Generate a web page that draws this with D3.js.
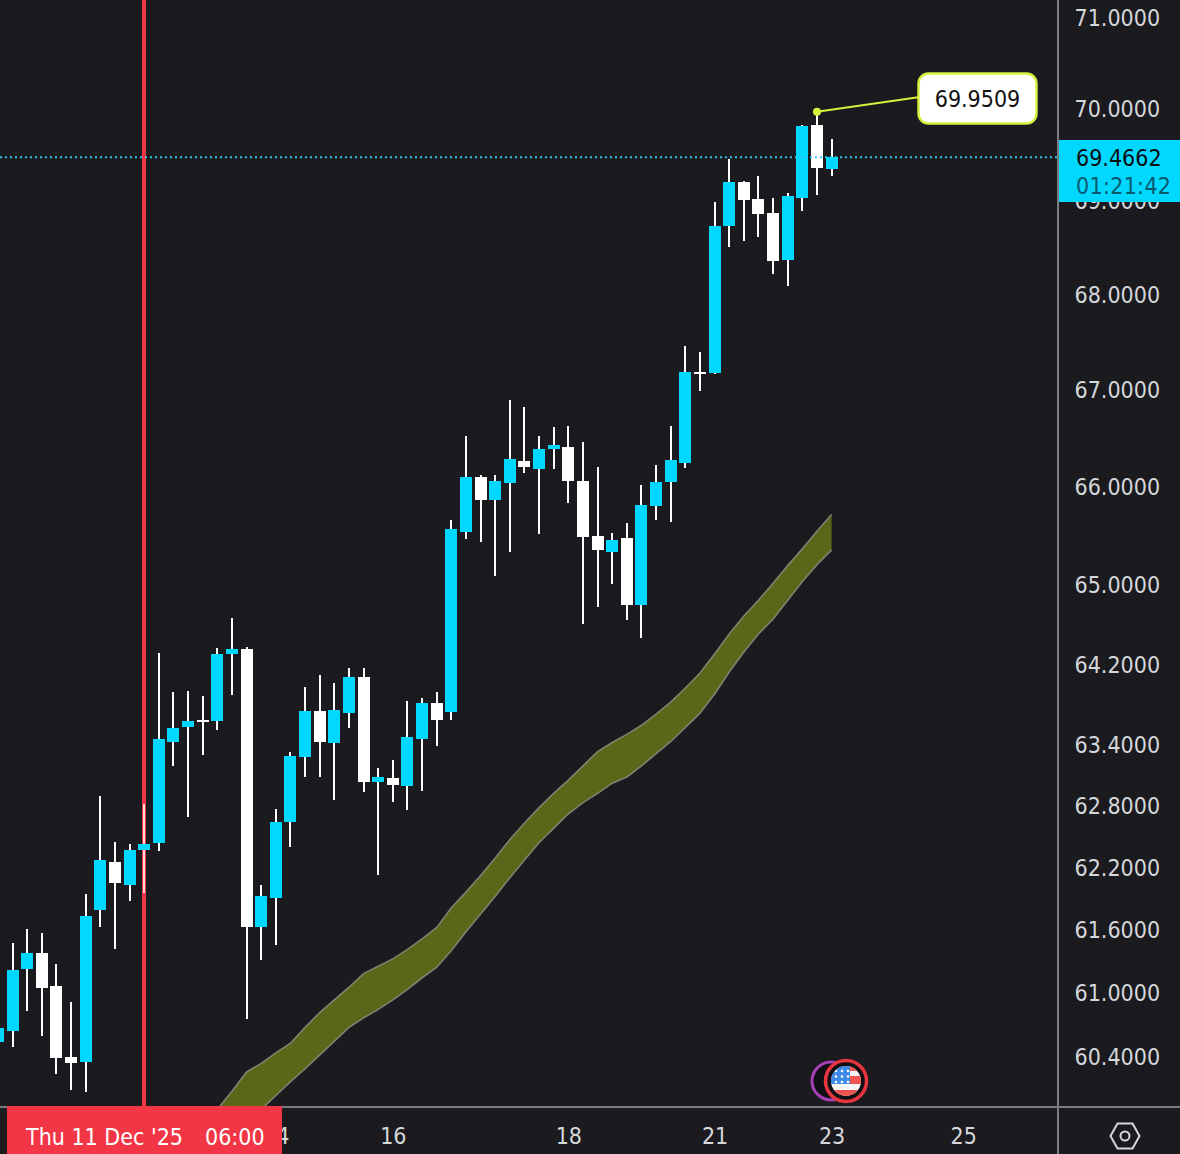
<!DOCTYPE html>
<html>
<head>
<meta charset="utf-8">
<title>Candlestick chart</title>
<script src="https://cdn.jsdelivr.net/npm/d3@7"></script>
<style>
	html, body { margin: 0; padding: 0; background: #1a1a1f; }
	svg { display: block; }
	text { font-family: "DejaVu Sans Condensed", "DejaVu Sans", sans-serif; font-stretch: condensed; }
</style>
</head>
<body>
<div id="chart"></div>
<script>
// Candles, one entry per bar, left to right
var opens = [60.53,60.64,61.22,61.38,61.06,60.39,60.34,61.79,62.25,62.03,
	62.37,62.44,63.42,63.57,63.64,63.63,64.30,64.35,61.62,61.90,
	62.64,63.28,63.73,63.41,63.71,64.07,63.03,63.07,62.99,63.45,
	63.81,63.72,65.53,66.09,65.86,66.03,66.26,66.18,66.38,66.40,
	66.05,65.49,65.33,65.47,64.79,65.80,66.04,66.24,67.18,67.17,
	68.73,69.20,69.02,68.87,68.36,69.03,69.82,69.34];
var highs = [60.66,61.47,61.61,61.57,61.27,60.91,61.94,62.89,62.45,62.43,
	62.82,64.31,63.92,63.93,63.88,64.36,64.66,64.37,62.03,62.77,
	63.33,63.97,64.09,64.01,64.16,64.16,63.17,63.25,63.83,63.86,
	63.92,65.65,66.52,66.12,66.12,66.89,66.82,66.52,66.61,66.62,
	66.46,66.20,65.52,65.62,66.01,66.22,66.62,67.46,67.39,68.99,
	69.45,69.21,69.27,69.03,69.08,69.82,69.9509,69.67];
var lows = [60.50,60.48,60.82,60.59,60.23,60.08,60.06,61.62,61.41,61.87,
	61.95,62.36,63.19,62.69,63.30,63.54,63.89,60.75,61.31,61.45,
	62.40,63.08,63.08,62.85,63.56,62.93,62.13,62.84,62.76,62.94,
	63.39,63.64,65.46,65.43,65.08,65.33,66.14,65.51,66.18,65.83,
	64.60,64.77,65.00,64.64,64.46,65.65,65.63,66.19,66.99,67.16,
	68.50,68.57,68.61,68.22,68.09,68.89,69.06,69.27];
var closes = [60.66,61.21,61.38,61.04,60.38,60.33,61.73,62.27,62.05,62.37,
	62.43,63.45,63.56,63.63,63.62,64.30,64.35,61.62,61.92,62.64,
	63.29,63.73,63.42,63.74,64.07,63.03,63.08,63.00,63.47,63.81,
	63.64,65.56,66.09,65.86,66.05,66.28,66.20,66.38,66.42,66.05,
	65.48,65.35,65.45,64.79,65.81,66.04,66.27,67.18,67.16,68.73,
	69.20,69.01,68.86,68.35,69.05,69.81,69.35,69.4662];

// Moving average ribbon, bars 15 to 57
var ribbonStart = 15;
var ribbonUpper = [59.90,60.07,60.25,60.33,60.43,60.52,60.67,60.81,60.93,61.05,
	61.18,61.25,61.32,61.41,61.51,61.62,61.81,61.96,62.12,62.29,
	62.47,62.63,62.78,62.92,63.05,63.19,63.33,63.42,63.50,63.59,
	63.70,63.82,63.96,64.11,64.30,64.50,64.68,64.84,65.01,65.19,
	65.36,65.54,65.71];
var ribbonLower = [59.55,59.66,59.78,59.90,60.03,60.16,60.28,60.41,60.54,60.67,
	60.76,60.84,60.93,61.03,61.14,61.24,61.40,61.58,61.75,61.92,
	62.10,62.27,62.44,62.58,62.72,62.83,62.92,63.02,63.08,63.19,
	63.31,63.43,63.57,63.71,63.90,64.12,64.32,64.50,64.65,64.84,
	65.03,65.20,65.35];

// Axis ticks
var priceTicks = [71,70,69,68,67,66,65,64.2,63.4,62.8,62.2,61.6,61,60.4];
var timeTickBars = [19,27,39,49,57,66];
var timeTickLabels = ["14","16","18","21","23","25"];

// Callouts
var lastPrice = 69.4662;
var countdown = "01:21:42";
var peakBar = 56;
var peakPrice = 69.9509;
var crosshairBar = 10;
var crosshairDate = "Thu 11 Dec '25";
var crosshairTime = "06:00";

var width = 1180, height = 1154;
var paneRight = 1058, paneBottom = 1107;
var upColor = "#00d8ff", downColor = "#ffffff", wickColor = "#ffffff";
var lineGray = "#7b7c80", labelColor = "#d6d7db", lime = "#d9f03c", red = "#f23645";

var svg = d3.select("#chart")
	.append("svg")
	.attr("width", width)
	.attr("height", height);

svg.append("rect")
	.attr("width", width)
	.attr("height", height)
	.attr("fill", "#1a1a1f");

svg.append("clipPath")
	.attr("id", "paneClip")
	.append("rect")
	.attr("width", paneRight)
	.attr("height", paneBottom);

var x = d3.scaleLinear().domain([0, 57]).range([-2, 831.6]);
var y = d3.scaleLog().domain([60.4, 71]).range([1056, 17]);

var bars = d3.range(opens.length);
var pane = svg.append("g").attr("clip-path", "url(#paneClip)");

// Ribbon
var ribbonBars = d3.range(ribbonUpper.length);
var ribbonX = i => x(ribbonStart + i);

pane.append("path")
	.attr("d", d3.area().x(ribbonX).y0(i => y(ribbonLower[i])).y1(i => y(ribbonUpper[i]))(ribbonBars))
	.attr("fill", "#5b6618");

[ribbonUpper, ribbonLower].forEach(function(values){
	pane.append("path")
		.attr("d", d3.line().x(ribbonX).y(i => y(values[i]))(ribbonBars))
		.attr("fill", "none")
		.attr("stroke", "#7f8370")
		.attr("stroke-width", 1.6);
});

// Crosshair sits under the candles
pane.append("line")
	.attr("x1", Math.round(x(crosshairBar)))
	.attr("x2", Math.round(x(crosshairBar)))
	.attr("y1", 0)
	.attr("y2", paneBottom)
	.attr("stroke", red)
	.attr("stroke-width", 4);

// Wicks
pane.selectAll(".wick")
	.data(bars)
	.enter()
	.append("rect")
	.attr("class", "wick")
	.attr("x", i => Math.round(x(i)) - 1)
	.attr("width", 2)
	.attr("y", i => Math.round(y(highs[i])))
	.attr("height", i => Math.round(y(lows[i])) - Math.round(y(highs[i])))
	.attr("fill", wickColor)
	.attr("opacity", i => i == crosshairBar ? 0.8 : 1);

// Bodies
pane.selectAll(".body")
	.data(bars)
	.enter()
	.append("rect")
	.attr("class", "body")
	.attr("x", i => Math.round(x(i)) - 6)
	.attr("width", 12)
	.attr("y", i => Math.round(y(Math.max(opens[i], closes[i]))))
	.attr("height", i => Math.max(2, Math.round(y(Math.min(opens[i], closes[i]))) - Math.round(y(Math.max(opens[i], closes[i])))))
	.attr("fill", i => closes[i] >= opens[i] ? upColor : downColor);

// Last price line
pane.append("line")
	.attr("x1", 0)
	.attr("x2", paneRight)
	.attr("y1", y(lastPrice))
	.attr("y2", y(lastPrice))
	.attr("stroke", "#2fc8e4")
	.attr("stroke-width", 2)
	.attr("stroke-dasharray", "2 3");

// Peak callout
var peakX = x(peakBar), peakY = y(peakPrice) - 1;
pane.append("line")
	.attr("x1", peakX)
	.attr("y1", peakY)
	.attr("x2", 920)
	.attr("y2", 97)
	.attr("stroke", lime)
	.attr("stroke-width", 2);
pane.append("circle")
	.attr("cx", peakX)
	.attr("cy", peakY)
	.attr("r", 4)
	.attr("fill", lime);
pane.append("rect")
	.attr("x", 918.5)
	.attr("y", 73.5)
	.attr("width", 118)
	.attr("height", 50)
	.attr("rx", 10)
	.attr("fill", "#ffffff")
	.attr("stroke", lime)
	.attr("stroke-width", 2.4);
pane.append("text")
	.attr("x", 977.5)
	.attr("y", 107)
	.attr("text-anchor", "middle")
	.attr("font-size", 23)
	.attr("fill", "#111111")
	.text(peakPrice.toFixed(4));

// Axes
var yAxis = d3.axisRight(y)
	.tickValues(priceTicks)
	.tickFormat(d => d.toFixed(4))
	.tickSize(0)
	.tickPadding(16.5);
var yAxisG = svg.append("g")
	.attr("transform", `translate(${paneRight}, 0)`)
	.call(yAxis);
yAxisG.select(".domain").remove();
yAxisG.selectAll("text")
	.attr("font-size", 23)
	.attr("dy", "0.36em")
	.attr("fill", labelColor);

var xAxis = d3.axisBottom(x)
	.tickValues(timeTickBars)
	.tickFormat((d, i) => timeTickLabels[i])
	.tickSize(0)
	.tickPadding(0);
var xAxisG = svg.append("g")
	.attr("transform", `translate(0, ${paneBottom + 21})`)
	.call(xAxis);
xAxisG.select(".domain").remove();
xAxisG.selectAll("text")
	.attr("font-size", 23)
	.attr("fill", labelColor);

svg.append("line")
	.attr("x1", paneRight).attr("x2", paneRight)
	.attr("y1", 0).attr("y2", height)
	.attr("stroke", lineGray).attr("stroke-width", 2);
svg.append("line")
	.attr("x1", 0).attr("x2", width)
	.attr("y1", paneBottom).attr("y2", paneBottom)
	.attr("stroke", lineGray).attr("stroke-width", 2);

// Last price tag
svg.append("rect")
	.attr("x", paneRight + 1)
	.attr("y", 140)
	.attr("width", width - paneRight + 4)
	.attr("height", 62)
	.attr("rx", 4)
	.attr("fill", upColor);
svg.append("rect")
	.attr("x", paneRight + 1)
	.attr("y", 140)
	.attr("width", 8)
	.attr("height", 62)
	.attr("fill", upColor);
svg.append("text")
	.attr("x", 1076)
	.attr("y", 166)
	.attr("font-size", 23)
	.attr("fill", "#0b0c10")
	.text(lastPrice.toFixed(4));
svg.append("text")
	.attr("x", 1076)
	.attr("y", 194)
	.attr("font-size", 23)
	.attr("letter-spacing", 0.3)
	.attr("fill", "#07596e")
	.text(countdown);

// Crosshair date tag
svg.append("rect")
	.attr("x", 7)
	.attr("y", paneBottom - 1)
	.attr("width", 275)
	.attr("height", height - paneBottom + 1)
	.attr("fill", red);
svg.append("text")
	.attr("x", 26)
	.attr("y", 1145)
	.attr("font-size", 23)
	.attr("fill", "#ffffff")
	.text(crosshairDate);
svg.append("text")
	.attr("x", 205)
	.attr("y", 1145)
	.attr("font-size", 23)
	.attr("fill", "#ffffff")
	.text(crosshairTime);

// Settings hexagon
var hex = svg.append("g")
	.attr("transform", "translate(1125, 1136)")
	.attr("fill", "none")
	.attr("stroke", labelColor)
	.attr("stroke-width", 2);
hex.append("path").attr("d", "M-14.5,0 L-7.5,-12.5 L7.5,-12.5 L14.5,0 L7.5,12.5 L-7.5,12.5 Z");
hex.append("circle").attr("r", 4.5);

// Event markers with the flag
var eventX = 846, eventY = 1081;
svg.append("circle")
	.attr("cx", eventX - 15)
	.attr("cy", eventY)
	.attr("r", 19)
	.attr("fill", "#101014")
	.attr("stroke", "#a63fb4")
	.attr("stroke-width", 3);
svg.append("circle")
	.attr("cx", eventX)
	.attr("cy", eventY)
	.attr("r", 20.5)
	.attr("fill", "#101014")
	.attr("stroke", "#e8343f")
	.attr("stroke-width", 3.5);

svg.append("clipPath")
	.attr("id", "flagClip")
	.append("circle")
	.attr("cx", eventX)
	.attr("cy", eventY)
	.attr("r", 15);

var flag = svg.append("g")
	.attr("clip-path", "url(#flagClip)");
flag.append("rect")
	.attr("x", eventX - 15).attr("y", eventY - 15)
	.attr("width", 30).attr("height", 30)
	.attr("fill", "#f4f4f4");
[[-15, 5], [-5, 8], [9, 6]].forEach(function(band){
	flag.append("rect")
		.attr("x", eventX - 15).attr("y", eventY + band[0])
		.attr("width", 30).attr("height", band[1])
		.attr("fill", "#f25450");
});
flag.append("rect")
	.attr("x", eventX - 15).attr("y", eventY - 15)
	.attr("width", 19).attr("height", 18)
	.attr("fill", "#3d8be8");
d3.range(3).forEach(function(row){
	d3.range(3).forEach(function(col){
		flag.append("circle")
			.attr("cx", eventX - 10 + col * 6)
			.attr("cy", eventY - 10 + row * 5.5)
			.attr("r", 1.3)
			.attr("fill", "#ffffff");
	});
});
</script>
</body>
</html>
